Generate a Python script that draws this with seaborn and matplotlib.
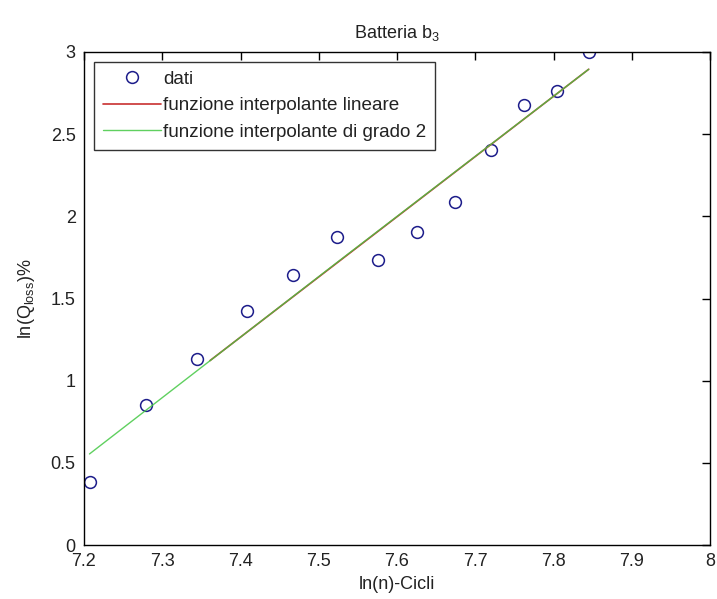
import numpy as np
import pandas as pd
import matplotlib
matplotlib.use("Agg")
import matplotlib.pyplot as plt
import seaborn as sns

# ---- data ----
x_dati = [7.208, 7.279, 7.345, 7.408, 7.467, 7.523, 7.576, 7.626, 7.674, 7.720, 7.762, 7.805, 7.845]
y_dati = [0.385, 0.850, 1.134, 1.424, 1.643, 1.877, 1.733, 1.905, 2.089, 2.404, 2.678, 2.765, 3.000]

x_lin = [7.361, 7.845]
y_lin = [1.122, 2.895]

x_quad = [7.207, 7.523, 7.845]
y_quad = [0.554, 1.718, 2.895]

x_ticks = [7.2, 7.3, 7.4, 7.5, 7.6, 7.7, 7.8, 7.9, 8.0]
x_ticklabels = ["7.2", "7.3", "7.4", "7.5", "7.6", "7.7", "7.8", "7.9", "8"]
y_ticks = [0, 0.5, 1, 1.5, 2, 2.5, 3]
y_ticklabels = ["0", "0.5", "1", "1.5", "2", "2.5", "3"]

labels = ["dati", "funzione interpolante lineare", "funzione interpolante di grado 2"]

sns.set_theme(style="white")
plt.rcParams["font.family"] = ["Liberation Sans", "DejaVu Sans"]
plt.rcParams["mathtext.fontset"] = "custom"
plt.rcParams["mathtext.rm"] = "Liberation Sans"
plt.rcParams["mathtext.it"] = "Liberation Sans"
plt.rcParams["mathtext.default"] = "regular"

FS = 13
FSL = 13.6
fig = plt.figure(figsize=(7.17, 5.99), dpi=100)
fig.patch.set_facecolor("white")
ax = fig.add_axes([84 / 717, 54 / 599, 626 / 717, 493 / 599])

df_d = pd.DataFrame({"x": x_dati, "y": y_dati})
df_l = pd.DataFrame({"x": x_lin, "y": y_lin})
df_q = pd.DataFrame({"x": x_quad, "y": y_quad})

sns.lineplot(data=df_d, x="x", y="y", ax=ax, estimator=None, sort=False,
             linestyle="", marker="o", markersize=8.5, markerfacecolor="none",
             markeredgecolor="#1c1c8a", markeredgewidth=1.1, color="#1c1c8a",
             label=labels[0])
sns.lineplot(data=df_l, x="x", y="y", ax=ax, estimator=None, sort=False,
             color="#c83030", linewidth=1.2, label=labels[1])
sns.lineplot(data=df_q, x="x", y="y", ax=ax, estimator=None, sort=False,
             color="#44c844", linewidth=1.0, alpha=0.85, label=labels[2])

ax.set_xlim(7.2, 8.0)
ax.set_ylim(0, 3)
ax.set_xticks(x_ticks)
ax.set_xticklabels(x_ticklabels)
ax.set_yticks(y_ticks)
ax.set_yticklabels(y_ticklabels)
ax.tick_params(axis="both", direction="in", length=6, width=1, color="black",
               labelsize=FS, labelcolor="#222222", top=True, right=True, pad=6)
for s in ax.spines.values():
    s.set_visible(True)
    s.set_color("black")
    s.set_linewidth(1.0)
ax.grid(False)
ax.set_facecolor("white")

ax.set_xlabel("ln(n)-Cicli", fontsize=FS, color="#222222", labelpad=4)
ax.set_ylabel(r"ln(Q$_{\mathrm{loss}}$)%", fontsize=FS, color="#222222", labelpad=10)
ax.set_title(r"Batteria b$_3$", fontsize=FS, color="#222222", pad=10)

handles, labs = ax.get_legend_handles_labels()
leg = ax.legend(handles, labs, loc="upper left", bbox_to_anchor=(10 / 626, (545 - 62) / 493),
                borderaxespad=0, fontsize=FSL, frameon=True, fancybox=False, shadow=False,
                handlelength=3.1, handletextpad=0.1, numpoints=1, labelspacing=0.5,
                borderpad=0.45, edgecolor="black")
leg.get_frame().set_linewidth(1.0)
for t in leg.get_texts():
    t.set_color("#222222")

fig.savefig("out.png", dpi=100, facecolor="white")
